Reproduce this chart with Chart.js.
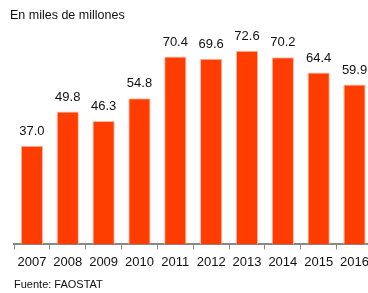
<!DOCTYPE html>
<html><head><meta charset="utf-8">
<script src="https://cdn.jsdelivr.net/npm/chart.js@4/dist/chart.umd.min.js"></script>
<style>
html,body{margin:0;padding:0;background:#fff;overflow:hidden;width:368px;height:293px;}
#wrap{position:absolute;left:0;top:0;width:374px;height:293px;}
.t{position:absolute;font-family:"Liberation Sans",Arial,sans-serif;color:#111;white-space:nowrap;}
</style></head>
<body>
<div id="wrap"><canvas id="c" width="374" height="293"></canvas></div>
<div class="t" style="left:10px;top:8px;font-size:12.5px;">En miles de millones</div>
<div class="t" style="left:14px;top:278px;font-size:11px;">Fuente: FAOSTAT</div>
<script>
const years = ["2007","2008","2009","2010","2011","2012","2013","2014","2015","2016"];
const values = [37.0,49.8,46.3,54.8,70.4,69.6,72.6,70.2,64.4,59.9];

const labelPlugin = {
  id:'vlabels',
  afterDatasetsDraw(chart){
    const ctx = chart.ctx;
    const meta = chart.getDatasetMeta(0);
    ctx.save();
    ctx.font = '13px "Liberation Sans", Arial, sans-serif';
    ctx.fillStyle = '#111';
    ctx.textAlign = 'center';
    ctx.textBaseline = 'bottom';
    meta.data.forEach((el,i)=>{
      ctx.fillText(values[i].toFixed(1), el.x, el.y - 8);
    });
    ctx.restore();
  }
};

new Chart(document.getElementById('c'),{
  type:'bar',
  data:{labels:years,datasets:[{data:values,backgroundColor:'#FF3D00',borderColor:'#FFB9A3',borderWidth:{top:1,left:1,right:1,bottom:0},barPercentage:0.62,categoryPercentage:1}]},
  options:{
    responsive:false,animation:false,
    layout:{padding:{left:14,right:0,top:31,bottom:18}},
    plugins:{legend:{display:false},tooltip:{enabled:false}},
    scales:{
      y:{display:false,min:0,max:80},
      x:{offset:true,
         grid:{drawOnChartArea:false,tickLength:5,color:'#888',offset:true},
         border:{color:'#888',width:2},
         ticks:{color:'#111',font:{family:'"Liberation Sans", Arial, sans-serif',size:13},padding:5,maxRotation:0}}
    }
  },
  plugins:[labelPlugin]
});
</script>
</body></html>
